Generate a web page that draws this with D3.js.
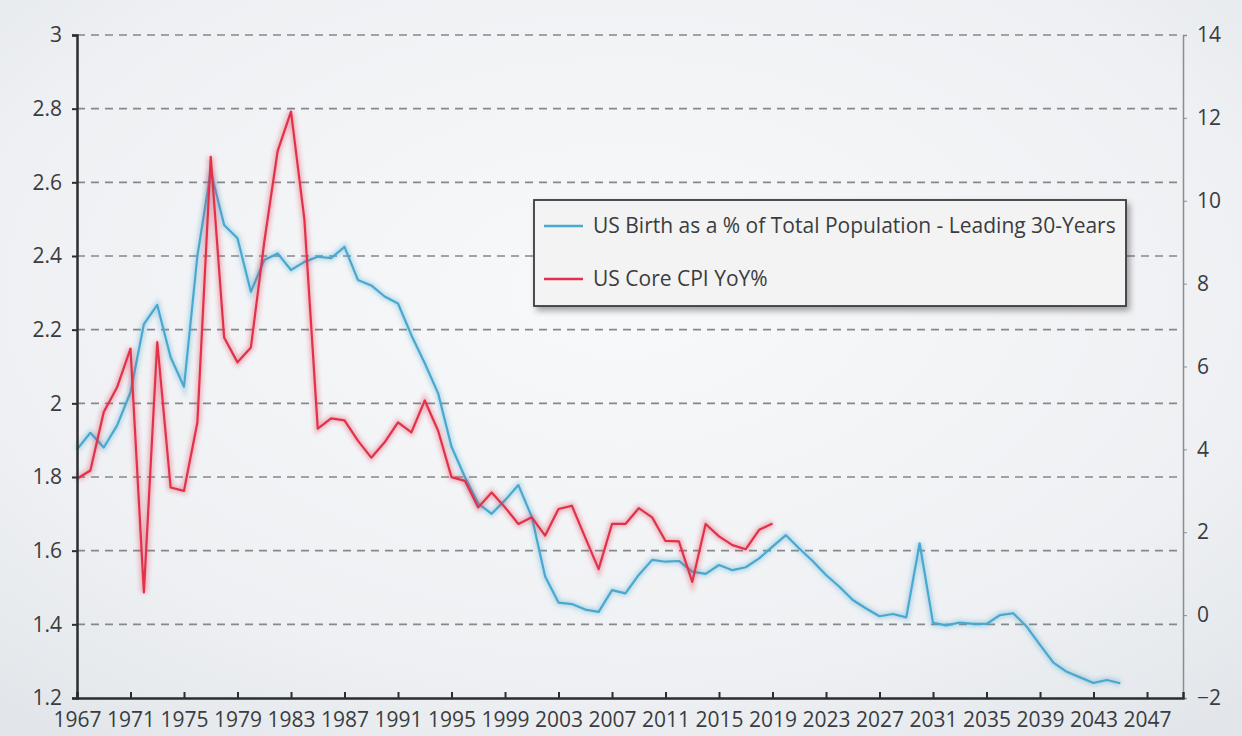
<!DOCTYPE html>
<html>
<head>
<meta charset="utf-8">
<script src="https://cdn.jsdelivr.net/npm/d3@7"></script>
<style>
  html, body { margin: 0; padding: 0; background: #eceef1; }
  svg { display: block; font-family: "Open Sans", "Noto Sans", sans-serif; }
  .tick text { font-size: 21px; font-family: "Open Sans", sans-serif; }
</style>
</head>
<body>
<div id="chart"></div>
<script>
// US births (% of population, lead 30 yrs) vs US core CPI YoY
var birthYears = d3.range(1967, 2046)
var birthPct = [
  1.875, 1.92, 1.88, 1.94, 2.03, 2.215, 2.267, 2.125, 2.045, 2.40,
  2.63, 2.484, 2.448, 2.303, 2.389, 2.407, 2.362, 2.384, 2.398, 2.394,
  2.425, 2.335, 2.32, 2.29, 2.271, 2.185, 2.109, 2.027, 1.882, 1.80,
  1.728, 1.70, 1.737, 1.778, 1.692, 1.53, 1.459, 1.455, 1.44, 1.434,
  1.493, 1.484, 1.534, 1.575, 1.57, 1.572, 1.543, 1.537, 1.561, 1.547,
  1.555, 1.579, 1.611, 1.642, 1.606, 1.572, 1.534, 1.502, 1.466, 1.443,
  1.422, 1.428, 1.419, 1.62, 1.404, 1.397, 1.405, 1.401, 1.401, 1.425,
  1.43, 1.394, 1.344, 1.296, 1.271, 1.256, 1.241, 1.249, 1.24
]
var cpiYears = d3.range(1967, 2020)
var coreCpi = [
  3.29, 3.49, 4.9, 5.5, 6.43, 0.55, 6.59, 3.08, 3.0, 4.65,
  11.06, 6.7, 6.1, 6.46, 9.0, 11.2, 12.15, 9.55, 4.5, 4.75,
  4.7, 4.21, 3.8, 4.17, 4.65, 4.41, 5.18, 4.45, 3.33, 3.24,
  2.6, 2.96, 2.6, 2.2, 2.36, 1.92, 2.56, 2.64, 1.87, 1.11,
  2.2, 2.2, 2.58, 2.36, 1.79, 1.78, 0.8, 2.2, 1.9, 1.69,
  1.59, 2.06, 2.21
]
var leftTicks = [1.2, 1.4, 1.6, 1.8, 2, 2.2, 2.4, 2.6, 2.8, 3]
var rightTicks = [-2, 0, 2, 4, 6, 8, 10, 12, 14]
var yearTicks = d3.range(1967, 2048, 4)
var seriesNames = ["US Birth as a % of Total Population - Leading 30-Years", "US Core CPI YoY%"]
var seriesColors = ["#4aa8cf", "#e0324b"]

var width = 1242, height = 736
var plot = {left: 77, right: 1183, top: 35, bottom: 698}

var svg = d3.select("#chart").append("svg")
    .attr("width", width)
    .attr("height", height)

var defs = svg.append("defs")
var bg = defs.append("radialGradient").attr("id", "bg")
    .attr("cx", "50%").attr("cy", "40%").attr("r", "75%")
bg.append("stop").attr("offset", "0%").attr("stop-color", "#f8f9fa")
bg.append("stop").attr("offset", "70%").attr("stop-color", "#eef0f3")
bg.append("stop").attr("offset", "100%").attr("stop-color", "#e2e6ea")

var glow = defs.append("filter").attr("id", "glow")
    .attr("x", "-5%").attr("y", "-5%").attr("width", "110%").attr("height", "110%")
glow.append("feGaussianBlur").attr("stdDeviation", 2)

var shadow = defs.append("filter").attr("id", "shadow")
    .attr("x", "-10%").attr("y", "-20%").attr("width", "130%").attr("height", "160%")
shadow.append("feDropShadow").attr("dx", 3).attr("dy", 4)
    .attr("stdDeviation", 3).attr("flood-color", "#000").attr("flood-opacity", 0.35)

svg.append("rect").attr("width", width).attr("height", height).attr("fill", "url(#bg)")

var x = d3.scaleLinear().domain([1967, 2049.69]).range([plot.left, plot.right])
var yL = d3.scaleLinear().domain([1.2, 3]).range([plot.bottom, plot.top])
var yR = d3.scaleLinear().domain([-2, 14]).range([plot.bottom, plot.top])

// dashed grid from left axis
svg.append("g")
  .selectAll("line")
  .data(leftTicks.filter(function(d) { return d > 1.2 }))
  .join("line")
    .attr("x1", plot.left).attr("x2", plot.right)
    .attr("y1", function(d) { return yL(d) })
    .attr("y2", function(d) { return yL(d) })
    .attr("stroke", "#85888c")
    .attr("stroke-width", 1.7)
    .attr("stroke-dasharray", "8,6")

// lines
var blueData = birthYears.map(function(yr, i) { return [yr, birthPct[i]] })
var redData = cpiYears.map(function(yr, i) { return [yr, coreCpi[i]] })

var blueLine = d3.line().x(function(d) { return x(d[0]) }).y(function(d) { return yL(d[1]) })
var redLine = d3.line().x(function(d) { return x(d[0]) }).y(function(d) { return yR(d[1]) })

function drawSeries(data, gen, color) {
  svg.append("path")
      .datum(data)
      .attr("d", gen)
      .attr("fill", "none")
      .attr("stroke", color)
      .attr("stroke-opacity", 0.35)
      .attr("stroke-width", 6)
      .attr("filter", "url(#glow)")
  svg.append("path")
      .datum(data)
      .attr("d", gen)
      .attr("fill", "none")
      .attr("stroke", color)
      .attr("stroke-width", 2.2)
      .attr("stroke-linejoin", "round")
}
drawSeries(blueData, blueLine, seriesColors[0])
drawSeries(redData, redLine, seriesColors[1])

// axes
var leftAxis = svg.append("g")
    .attr("transform", "translate(" + plot.left + ",0)")
    .call(d3.axisLeft(yL).tickValues(leftTicks).tickSize(5).tickPadding(10)
      .tickFormat(function(d) { return d3.format("")(+d.toFixed(1)) }))
leftAxis.select(".domain").attr("stroke", "#2b2d30").attr("stroke-width", 2.5)
leftAxis.selectAll(".tick line").attr("stroke", "#2b2d30").attr("stroke-width", 2)

var rightAxis = svg.append("g")
    .attr("transform", "translate(" + plot.right + ",0)")
    .call(d3.axisRight(yR).tickValues(rightTicks).tickSize(4).tickPadding(10))
rightAxis.select(".domain").attr("stroke", "#8a8d91").attr("stroke-width", 1.5)
rightAxis.selectAll(".tick line").attr("stroke", "#8a8d91")

var bottomAxis = svg.append("g")
    .attr("transform", "translate(0," + plot.bottom + ")")
    .call(d3.axisBottom(x).tickValues(yearTicks).tickSize(-6).tickPadding(14)
      .tickFormat(d3.format("d")))
bottomAxis.select(".domain").attr("stroke", "#2b2d30").attr("stroke-width", 2.5)
bottomAxis.selectAll(".tick line").attr("stroke", "#2b2d30").attr("stroke-width", 2)

svg.selectAll(".tick text")
    .style("font-size", "21px")
    .attr("fill", "#3a3c40")

// legend
var legend = svg.append("g").attr("transform", "translate(534,200)")
legend.append("rect")
    .attr("width", 592).attr("height", 106)
    .attr("fill", "#f3f3f3")
    .attr("stroke", "#3a3c40")
    .attr("stroke-width", 1.8)
    .attr("filter", "url(#shadow)")
var items = legend.selectAll("g.item")
  .data(seriesNames)
  .join("g")
    .attr("class", "item")
    .attr("transform", function(d, i) { return "translate(10," + (26 + i * 53) + ")" })
items.append("line")
    .attr("x1", 0).attr("x2", 39)
    .attr("stroke", function(d, i) { return seriesColors[i] })
    .attr("stroke-width", 2.5)
items.append("text")
    .attr("x", 49)
    .attr("dy", "0.35em")
    .attr("font-size", "21px")
    .attr("fill", "#3a3c40")
    .text(function(d) { return d })
</script>
</body>
</html>
